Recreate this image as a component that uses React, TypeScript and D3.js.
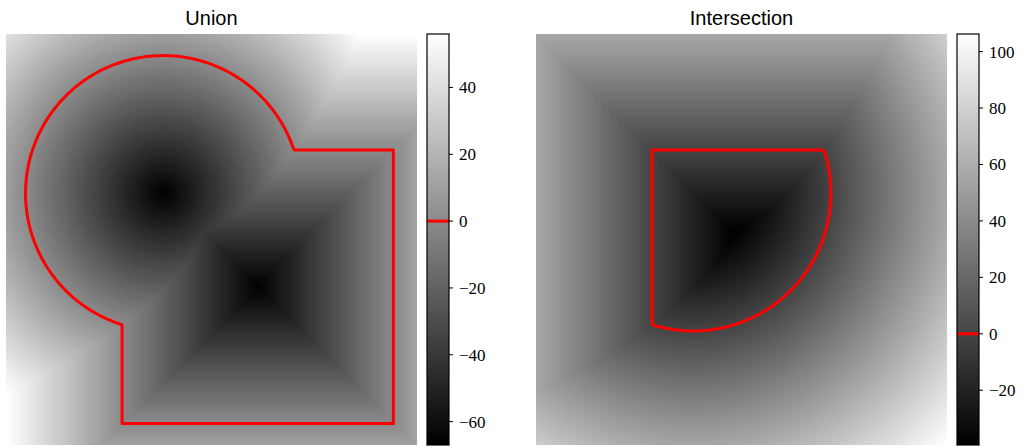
import React, { useMemo } from 'react';
import * as d3 from 'd3';

// grid size (samples per side) and the two shapes the distance fields come from
const gridSize = 200;
const circleCenter = [76, 77];
const circleRadius = 67;
const squareMin = [56, 56];
const squareMax = [188, 189];

const panelTitles = ['Union', 'Intersection'];
const unionTicks = [-60, -40, -20, 0, 20, 40];
const intersectionTicks = [-20, 0, 20, 40, 60, 80, 100];

const W = 1027;
const H = 446;
const mapSize = 411;
const top = 34;
const panelX = [6, 536];
const barOffset = 421;
const barWidth = 22;

function buildField(kind: string) {
  const sx = (squareMin[0] + squareMax[0]) / 2;
  const sy = (squareMin[1] + squareMax[1]) / 2;
  const hx = (squareMax[0] - squareMin[0]) / 2;
  const hy = (squareMax[1] - squareMin[1]) / 2;
  const values = new Float64Array(gridSize * gridSize);
  for (let j = 0; j < gridSize; j++) {
    for (let i = 0; i < gridSize; i++) {
      const dc = Math.hypot(i - circleCenter[0], j - circleCenter[1]) - circleRadius;
      const ds = Math.max(Math.abs(i - sx) - hx, Math.abs(j - sy) - hy);
      values[j * gridSize + i] = kind === 'Union' ? Math.min(dc, ds) : Math.max(dc, ds);
    }
  }
  return values;
}

function Panel({ title, ticks, x0 }: { title: string; ticks: number[]; x0: number }) {
  const { extent, href, outline } = useMemo(() => {
    const values = buildField(title);
    const extent = d3.extent(values) as [number, number];
    const color = d3.scaleLinear().domain(extent).range([0, 255]);

    const canvas = document.createElement('canvas');
    canvas.width = gridSize;
    canvas.height = gridSize;
    const ctx = canvas.getContext('2d')!;
    const img = ctx.createImageData(gridSize, gridSize);
    values.forEach((v, k) => {
      const g = Math.round(color(v));
      img.data[k * 4] = g;
      img.data[k * 4 + 1] = g;
      img.data[k * 4 + 2] = g;
      img.data[k * 4 + 3] = 255;
    });
    ctx.putImageData(img, 0, 0);

    // zero level set, traced on the negated field so the inside is the polygon
    const neg = Array.from(values, (v) => -v);
    const contour = d3.contours().size([gridSize, gridSize]).thresholds([0])(neg)[0];
    const path = d3.geoPath(d3.geoIdentity().scale(mapSize / gridSize) as any);

    return { extent, href: canvas.toDataURL(), outline: path(contour as any) };
  }, [title]);

  const y = d3.scaleLinear().domain(extent).range([top + mapSize, top]);
  const barX = x0 + barOffset;
  const gradId = `grad-${title}`;

  return (
    <g>
      <text
        x={x0 + mapSize / 2}
        y={25}
        textAnchor="middle"
        fontFamily="Liberation Sans, Arial, sans-serif"
        fontSize={20}
      >
        {title}
      </text>
      <image href={href} x={x0} y={top} width={mapSize} height={mapSize} preserveAspectRatio="none" />
      <path
        d={outline || ''}
        transform={`translate(${x0},${top})`}
        fill="none"
        stroke="#ff0000"
        strokeWidth={3}
        strokeLinejoin="round"
      />
      <defs>
        <linearGradient id={gradId} x1="0" y1="1" x2="0" y2="0">
          <stop offset="0" stopColor="#000" />
          <stop offset="1" stopColor="#fff" />
        </linearGradient>
      </defs>
      <rect x={barX} y={top} width={barWidth} height={mapSize} fill={`url(#${gradId})`} />
      <line x1={barX} x2={barX + barWidth} y1={y(0)} y2={y(0)} stroke="#ff0000" strokeWidth={3} />
      <rect x={barX} y={top} width={barWidth} height={mapSize} fill="none" stroke="#000" strokeWidth={1.2} />
      {ticks.map((t) => (
        <g key={t}>
          <line x1={barX + barWidth} x2={barX + barWidth + 4} y1={y(t)} y2={y(t)} stroke="#000" strokeWidth={1} />
          <text
            x={barX + barWidth + 10}
            y={y(t)}
            dy="0.35em"
            fontFamily="Liberation Serif, DejaVu Serif, serif"
            fontSize={17}
          >
            {t < 0 ? `\u2212${-t}` : t}
          </text>
        </g>
      ))}
    </g>
  );
}

export default function App() {
  return (
    <svg width={W} height={H} style={{ position: 'absolute', left: 0, top: 0, background: '#fff' }}>
      <Panel title={panelTitles[0]} ticks={unionTicks} x0={panelX[0]} />
      <Panel title={panelTitles[1]} ticks={intersectionTicks} x0={panelX[1]} />
    </svg>
  );
}
